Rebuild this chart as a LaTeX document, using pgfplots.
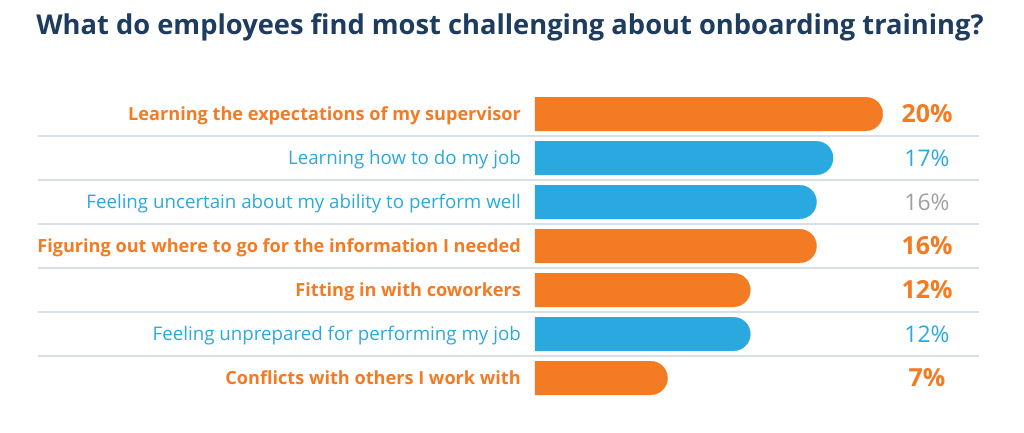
\documentclass[border=0pt]{standalone}
\usepackage{pgfplots}
\pgfplotsset{compat=1.18}
\usepackage{fontspec}
\setmainfont{Open Sans}
\definecolor{orng}{HTML}{F37B23}
\definecolor{blu}{HTML}{29A9E0}
\definecolor{navy}{HTML}{1D3C5E}
\definecolor{grayp}{HTML}{A0A0A0}
\definecolor{sep}{HTML}{D8DFE6}
\newcommand{\lo}[1]{\textcolor{orng}{\fontsize{18.2}{20}\selectfont\bfseries #1}}
\newcommand{\lb}[1]{\textcolor{blu}{\fontsize{18.8}{20}\selectfont #1}}
\newcommand{\po}[1]{\textcolor{orng}{\fontsize{25}{28}\selectfont\bfseries #1}}
\newcommand{\pb}[2]{\textcolor{#1}{\fontsize{23}{28}\selectfont #2}}
\begin{document}
\begin{tikzpicture}[x=1bp,y=1bp]
\useasboundingbox (0,0) rectangle (1024,432);
\node[anchor=base, text=navy, font=\fontsize{27.4}{32}\selectfont\bfseries, inner sep=0pt] at (510,397) {What do employees find most challenging about onboarding training?};
\begin{axis}[
  at={(38bp,32bp)}, anchor=south west, scale only axis,
  width=941bp, height=308bp,
  xmin=-30.03, xmax=26.83, ymin=0.5, ymax=7.5, y dir=reverse,
  axis line style={draw=none},
  major tick length=0pt, minor tick length=0pt,
  xtick=\empty,
  ytick={1,2,3,4,5,6,7},
  yticklabels={\lo{Learning the expectations of my supervisor},
               \lb{Learning how to do my job},
               \lb{Feeling uncertain about my ability to perform well},
               \lo{Figuring out where to go for the information I needed},
               \lo{Fitting in with coworkers},
               \lb{Feeling unprepared for performing my job},
               \lo{Conflicts with others I work with}},
  yticklabel style={anchor=base east, inner sep=0pt, xshift=483bp, yshift=-6.5bp},
  minor ytick={1.5,2.5,3.5,4.5,5.5,6.5},
  yminorgrids, minor grid style={draw=sep, line width=1.3bp},
  clip=false,
]
\addplot[xbar, bar shift=0pt, bar width=34bp, fill=orng, draw=none]
  coordinates {(20,1) (16,4) (12,5) (7,7)};
\addplot[only marks, mark=*, color=orng, mark size=16.8bp, mark options={fill=orng, draw=orng, line width=0.2bp}]
  coordinates {(20,1) (16,4) (12,5) (7,7)};
\addplot[xbar, bar shift=0pt, bar width=34bp, fill=blu, draw=none]
  coordinates {(17,2) (16,3) (12,6)};
\addplot[only marks, mark=*, color=blu, mark size=16.8bp, mark options={fill=blu, draw=blu, line width=0.2bp}]
  coordinates {(17,2) (16,3) (12,6)};
\end{axis}
\begin{axis}[
  at={(38bp,32bp)}, anchor=south west, scale only axis,
  width=941bp, height=308bp,
  xmin=-30.03, xmax=26.83, ymin=0.5, ymax=7.5, y dir=reverse,
  axis line style={draw=none},
  major tick length=0pt,
  xtick=\empty,
  yticklabel pos=right,
  ytick={1,2,3,4,5,6,7},
  yticklabels={\po{20\%},
               \pb{blu}{17\%},
               \pb{grayp}{16\%},
               \po{16\%},
               \po{12\%},
               \pb{blu}{12\%},
               \po{7\%}},
  yticklabel style={anchor=base, inner sep=0pt, xshift=-52bp, yshift=-8.5bp},
  clip=false,
]
\addplot[draw=none] coordinates {(0,1)};
\end{axis}
\end{tikzpicture}
\end{document}
